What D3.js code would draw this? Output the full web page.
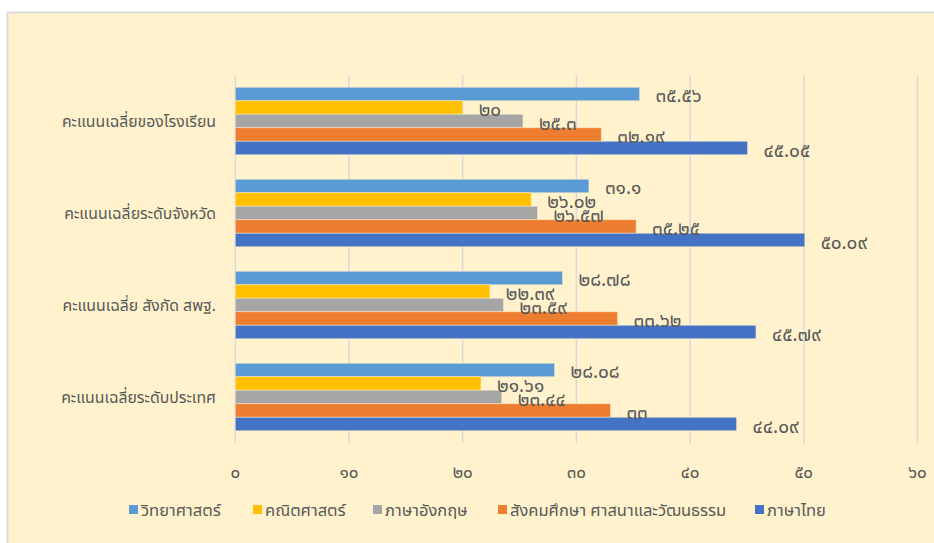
<!DOCTYPE html>
<html><head><meta charset="utf-8">
<script src="https://cdn.jsdelivr.net/npm/d3@7"></script>
<style>
html,body{margin:0;padding:0;background:#fff;}
svg{display:block;}
text{font-family:Tahoma,"Noto Sans Thai","Leelawadee UI","DejaVu Sans",sans-serif;}
</style></head>
<body>
<svg id="c" width="934" height="543"></svg>
<script>
const categories = ["คะแนนเฉลี่ยของโรงเรียน","คะแนนเฉลี่ยระดับจังหวัด","คะแนนเฉลี่ย สังกัด สพฐ.","คะแนนเฉลี่ยระดับประเทศ"];
const seriesNames = ["วิทยาศาสตร์","คณิตศาสตร์","ภาษาอังกฤษ","สังคมศึกษา ศาสนาและวัฒนธรรม","ภาษาไทย"];
const science = [35.56, 31.1, 28.78, 28.08];
const math = [20, 26.02, 22.39, 21.61];
const english = [25.3, 26.57, 23.59, 23.44];
const social = [32.19, 35.25, 33.62, 33];
const thai = [45.05, 50.09, 45.79, 44.09];
const xTicks = [0,10,20,30,40,50,60];
const colors = ["#5B9BD5","#FFC000","#A5A5A5","#ED7D31","#4472C4"];

const seriesValues = [science, math, english, social, thai];
const thaiDigits = "๐๑๒๓๔๕๖๗๘๙";
const toThai = s => String(s).replace(/[0-9]/g, d => thaiDigits[+d]);

const svg = d3.select("#c");
svg.append("rect").attr("x",7.5).attr("y",12.5).attr("width",960).attr("height",560)
  .attr("fill","#FFF2CC").attr("stroke","#D9D9D9").attr("stroke-width",2);

const x = d3.scaleLinear().domain([0,60]).range([235.3,917.5]);
const y = d3.scaleBand().domain(categories).range([75,443]).paddingInner(0.2663).paddingOuter(0.13315);
const yi = d3.scaleBand().domain(seriesNames).range([0,y.bandwidth()]);

// gridlines
svg.append("g").selectAll("line").data(xTicks).join("line")
  .attr("x1",d=>x(d)).attr("x2",d=>x(d)).attr("y1",75).attr("y2",443)
  .attr("stroke","#D9D9D9").attr("stroke-width",1.5);

// x tick labels
svg.append("g").selectAll("text").data(xTicks).join("text")
  .attr("x",d=>x(d)).attr("y",473).attr("text-anchor","middle").attr("dominant-baseline","central")
  .attr("fill","#595959").attr("font-size",17).text(d=>toThai(d));

// category labels
svg.append("g").selectAll("text").data(categories).join("text")
  .attr("x",216).attr("y",d=>y(d)+y.bandwidth()/2+1).attr("text-anchor","end").attr("dominant-baseline","central")
  .attr("fill","#595959").attr("font-size",15.8).text(d=>d);

// bars
const rows = [];
categories.forEach((c,ci)=>seriesNames.forEach((s,si)=>rows.push({c,s,si,v:seriesValues[si][ci]})));
svg.append("g").selectAll("rect").data(rows).join("rect")
  .attr("x",x(0)).attr("y",d=>y(d.c)+yi(d.s)).attr("width",d=>x(d.v)-x(0)).attr("height",yi.bandwidth())
  .attr("fill",d=>colors[d.si]).attr("stroke","#FFF2CC").attr("stroke-opacity",0.6).attr("stroke-width",0.8);

// data labels
svg.append("g").selectAll("text").data(rows).join("text")
  .attr("x",d=>x(d.v)+16).attr("y",d=>y(d.c)+yi(d.s)+yi.bandwidth()/2+3).attr("dominant-baseline","central")
  .attr("fill","#595959").attr("font-size",19).text(d=>toThai(d.v));

// legend
const legX = [129,253,373,498,755];
const lg = svg.append("g").selectAll("g").data(seriesNames).join("g")
  .attr("transform",(d,i)=>`translate(${legX[i]},510)`);
lg.append("rect").attr("x",0).attr("y",-5).attr("width",9).attr("height",9).attr("fill",(d,i)=>colors[i]);
lg.append("text").attr("x",12).attr("y",0).attr("dominant-baseline","central")
  .attr("fill","#595959").attr("font-size",16.5).text(d=>d);
</script>
</body></html>
